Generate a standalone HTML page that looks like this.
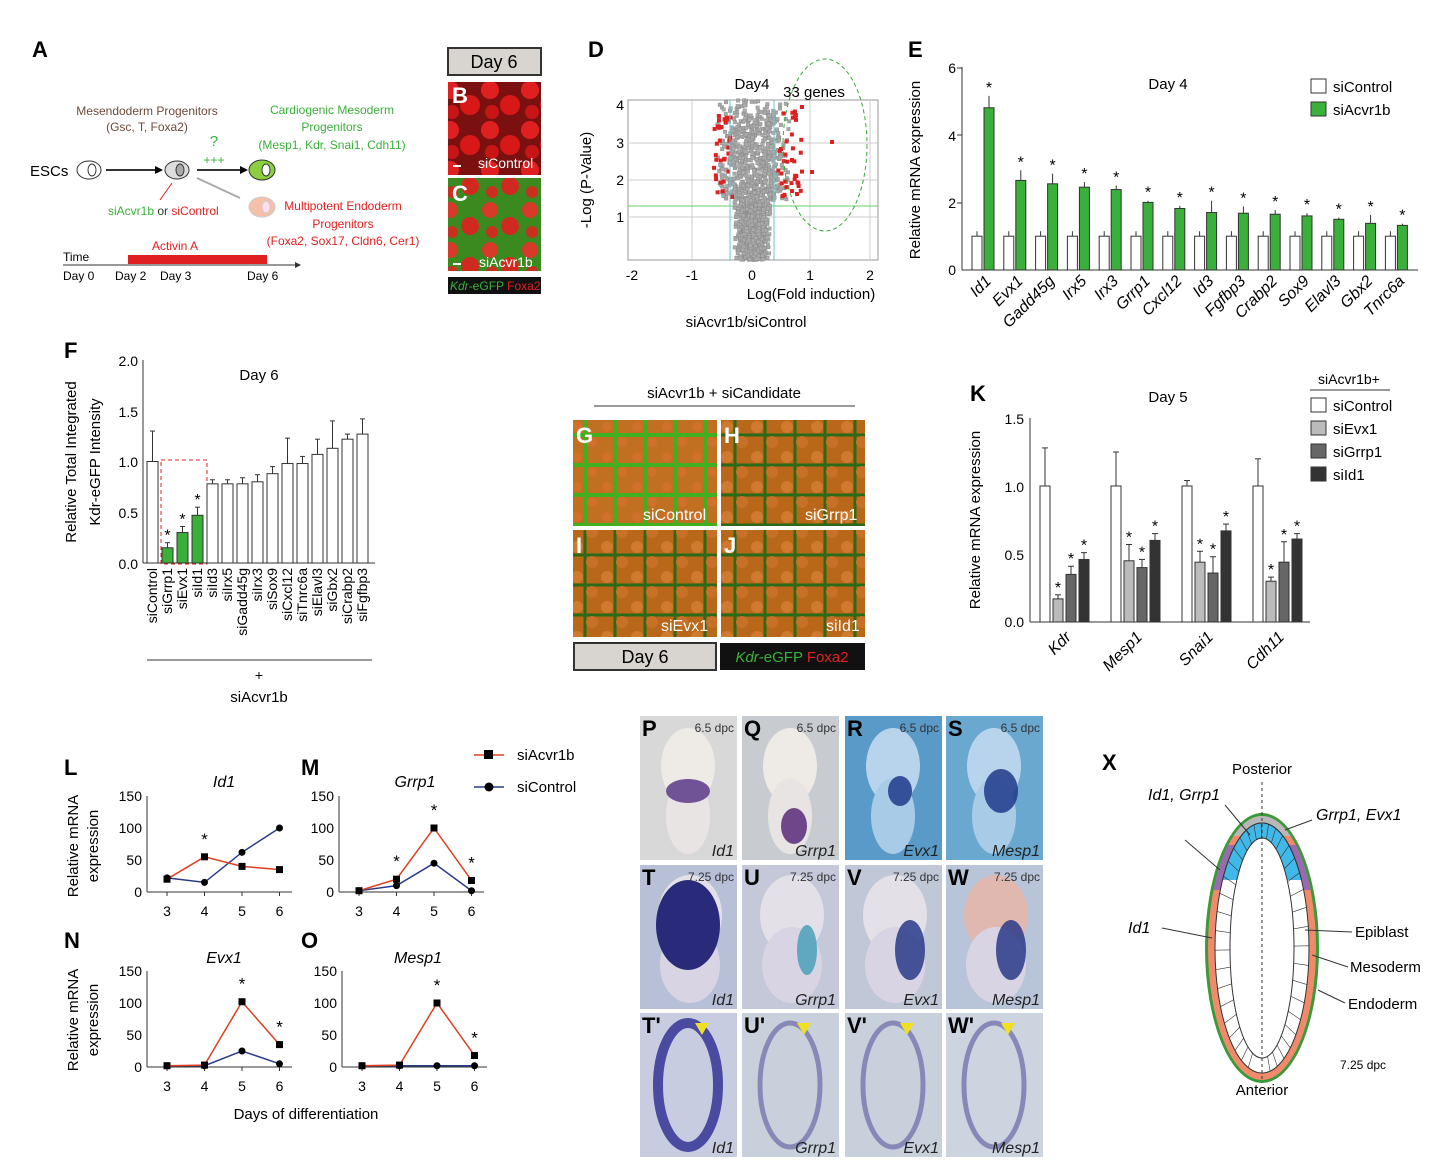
<!DOCTYPE html>
<html><head><meta charset="utf-8"><style>
body{margin:0;background:#fff}
svg{display:block;font-family:"Liberation Sans",Arial,sans-serif}
</style></head><body>
<svg width="1448" height="1172" viewBox="0 0 1448 1172" xmlns="http://www.w3.org/2000/svg">
<defs>
<pattern id="red" width="40" height="40" patternUnits="userSpaceOnUse">
<rect width="40" height="40" fill="#7a1010"/>
<circle cx="10" cy="10" r="9" fill="#e02020"/><circle cx="30" cy="25" r="10" fill="#d81818"/><circle cx="12" cy="32" r="7" fill="#c81515"/>
</pattern>
<pattern id="rg" width="40" height="40" patternUnits="userSpaceOnUse">
<rect width="40" height="40" fill="#3a8a20"/>
<circle cx="10" cy="10" r="8" fill="#d83a2a"/><circle cx="30" cy="26" r="9" fill="#d02a20"/><circle cx="12" cy="32" r="6" fill="#c83020"/>
</pattern>
<pattern id="og" width="30" height="30" patternUnits="userSpaceOnUse">
<rect width="30" height="30" fill="#c07020"/>
<path d="M0 15h30M15 0v30" stroke="#40b020" stroke-width="4"/><circle cx="7" cy="7" r="5" fill="#d0702a"/><circle cx="22" cy="22" r="5" fill="#d0702a"/>
</pattern>
<pattern id="og2" width="30" height="30" patternUnits="userSpaceOnUse">
<rect width="30" height="30" fill="#b86818"/>
<path d="M0 15h30M15 0v30" stroke="#2a6a18" stroke-width="3"/><circle cx="7" cy="7" r="6" fill="#d07a30"/><circle cx="22" cy="22" r="6" fill="#c87028"/>
</pattern>
<clipPath id="ctop"><rect x="1190" y="800" width="150" height="80"/></clipPath>
<clipPath id="ctop2"><rect x="1190" y="800" width="150" height="36"/></clipPath>
<clipPath id="cmid"><rect x="1190" y="845" width="150" height="45"/></clipPath>
</defs>

<!-- Panel A -->
<text x="32" y="57" font-size="22" font-weight="bold">A</text>
<text x="147" y="115" font-size="12" fill="#6b4a3a" text-anchor="middle">Mesendoderm Progenitors</text>
<text x="147" y="131" font-size="12" fill="#6b4a3a" text-anchor="middle">(Gsc, T, Foxa2)</text>
<text x="30" y="176" font-size="15">ESCs</text>
<ellipse cx="89" cy="170" rx="12" ry="9" fill="#fff" stroke="#333"/><ellipse cx="92" cy="170" rx="4" ry="6" fill="#fff" stroke="#333"/>
<line x1="106" y1="170" x2="155" y2="170" stroke="#333" stroke-width="2"/><path d="M155 166l8 4-8 4z"/>
<ellipse cx="177" cy="170" rx="12" ry="9" fill="#ddd" stroke="#333"/><ellipse cx="180" cy="170" rx="4" ry="6" fill="#aaa" stroke="#333"/>
<line x1="197" y1="170" x2="240" y2="170" stroke="#333" stroke-width="2"/><path d="M240 166l8 4-8 4z"/>
<text x="214" y="146" font-size="15" fill="#3ab03a" text-anchor="middle">?</text>
<text x="214" y="164" font-size="12" fill="#3ab03a" text-anchor="middle">+++</text>
<line x1="197" y1="178" x2="240" y2="198" stroke="#aaa" stroke-width="2"/>
<ellipse cx="262" cy="170" rx="13" ry="10" fill="#8cd040" stroke="#333"/><ellipse cx="266" cy="170" rx="4" ry="6" fill="#fff" stroke="#333"/>
<ellipse cx="262" cy="207" rx="13" ry="10" fill="#f6c0a8" stroke="#ccc"/><ellipse cx="266" cy="207" rx="4" ry="6" fill="#fde" stroke="#ccc"/>
<text x="332" y="114" font-size="12" fill="#3ab03a" text-anchor="middle">Cardiogenic Mesoderm</text>
<text x="332" y="131" font-size="12" fill="#3ab03a" text-anchor="middle">Progenitors</text>
<text x="332" y="149" font-size="12" fill="#3ab03a" text-anchor="middle">(Mesp1, Kdr, Snai1, Cdh11)</text>
<text x="343" y="210" font-size="12" fill="#e02020" text-anchor="middle">Multipotent Endoderm</text>
<text x="343" y="228" font-size="12" fill="#e02020" text-anchor="middle">Progenitors</text>
<text x="343" y="245" font-size="12" fill="#e02020" text-anchor="middle">(Foxa2, Sox17, Cldn6, Cer1)</text>
<text x="108" y="215" font-size="12" fill="#3ab03a">siAcvr1b <tspan fill="#333">or</tspan> <tspan fill="#e02020">siControl</tspan></text>
<line x1="160" y1="200" x2="172" y2="183" stroke="#e02020"/>
<text x="175" y="250" font-size="12" fill="#e02020" text-anchor="middle">Activin A</text>
<rect x="128" y="255" width="139" height="9" fill="#e02020"/>
<line x1="63" y1="265" x2="295" y2="265" stroke="#333"/><path d="M295 262l6 3-6 3z" fill="#333"/>
<text x="63" y="261" font-size="12">Time</text>
<text x="63" y="280" font-size="12">Day 0</text><text x="115" y="280" font-size="12">Day 2</text><text x="160" y="280" font-size="12">Day 3</text><text x="247" y="280" font-size="12">Day 6</text>

<!-- B C -->
<rect x="448" y="48" width="93" height="27" fill="#d8d4d0" stroke="#333" stroke-width="2"/>
<text x="494" y="68" font-size="18" text-anchor="middle">Day 6</text>
<rect x="448" y="82" width="93" height="93" fill="url(#red)"/>
<rect x="448" y="178" width="93" height="93" fill="url(#rg)"/>
<text x="452" y="103" font-size="22" font-weight="bold" fill="#fff">B</text>
<text x="452" y="201" font-size="22" font-weight="bold" fill="#fff">C</text>
<text x="478" y="168" font-size="14" fill="#fff">siControl</text>
<text x="479" y="267" font-size="14" fill="#fff">siAcvr1b</text>
<line x1="453" y1="166" x2="461" y2="166" stroke="#fff" stroke-width="2"/><line x1="453" y1="264" x2="461" y2="264" stroke="#fff" stroke-width="2"/>
<rect x="448" y="277" width="93" height="17" fill="#111"/>
<text x="450" y="290" font-size="12" fill="#3ab03a"><tspan font-style="italic">Kdr</tspan>-eGFP <tspan fill="#e02020">Foxa2</tspan></text>

<!-- D volcano -->
<text x="588" y="57" font-size="22" font-weight="bold">D</text>
<rect x="628" y="100" width="250" height="160" fill="#fff" stroke="#999"/>
<g stroke="#ccc"><line x1="628" y1="143" x2="878" y2="143"/><line x1="628" y1="180" x2="878" y2="180"/><line x1="628" y1="217" x2="878" y2="217"/><line x1="692" y1="100" x2="692" y2="260"/><line x1="810" y1="100" x2="810" y2="260"/><line x1="870" y1="100" x2="870" y2="260"/></g>
<line x1="628" y1="206" x2="878" y2="206" stroke="#6c6"/>
<g id="volc"></g>
<line x1="730" y1="100" x2="730" y2="260" stroke="#6cc"/><line x1="774" y1="100" x2="774" y2="260" stroke="#6cc"/>
<ellipse cx="825" cy="145" rx="42" ry="86" fill="none" stroke="#3a3" stroke-dasharray="4,3"/>
<g font-size="14" text-anchor="end"><text x="624" y="110">4</text><text x="624" y="148">3</text><text x="624" y="185">2</text><text x="624" y="222">1</text></g>
<g font-size="14" text-anchor="middle"><text x="632" y="280">-2</text><text x="692" y="280">-1</text><text x="752" y="280">0</text><text x="810" y="280">1</text><text x="870" y="280">2</text></g>
<text x="752" y="89" font-size="15" text-anchor="middle">Day4</text>
<text x="814" y="97" font-size="15" text-anchor="middle">33 genes</text>
<text x="811" y="299" font-size="15" text-anchor="middle">Log(Fold induction)</text>
<text x="746" y="327" font-size="15" text-anchor="middle">siAcvr1b/siControl</text>
<text transform="translate(591,180) rotate(-90)" font-size="15" text-anchor="middle">-Log (P-Value)</text>

<!-- E -->
<text x="908" y="57" font-size="22" font-weight="bold">E</text>
<line x1="962" y1="67" x2="962" y2="270" stroke="#333"/><line x1="962" y1="270" x2="1418" y2="270" stroke="#333"/>
<g font-size="14" text-anchor="end"><text x="956" y="73">6</text><text x="956" y="141">4</text><text x="956" y="208">2</text><text x="956" y="275">0</text></g>
<g stroke="#333"><line x1="957" y1="68" x2="962" y2="68"/><line x1="957" y1="135" x2="962" y2="135"/><line x1="957" y1="203" x2="962" y2="203"/></g>
<text transform="translate(920,170) rotate(-90)" font-size="15" text-anchor="middle">Relative mRNA expression</text>
<text x="1168" y="89" font-size="15" text-anchor="middle">Day 4</text>
<rect x="1311" y="79" width="15" height="14" fill="#fff" stroke="#333"/><text x="1333" y="92" font-size="15">siControl</text>
<rect x="1311" y="102" width="15" height="14" fill="#3ab03a" stroke="#333"/><text x="1333" y="115" font-size="15">siAcvr1b</text>
<g id="ebars" stroke="#333" font-size="15"></g>

<!-- F -->
<text x="64" y="358" font-size="22" font-weight="bold">F</text>
<line x1="143" y1="360" x2="143" y2="563" stroke="#333"/><line x1="143" y1="563" x2="375" y2="563" stroke="#333"/>
<g font-size="14" text-anchor="end"><text x="138" y="366">2.0</text><text x="138" y="417">1.5</text><text x="138" y="467">1.0</text><text x="138" y="518">0.5</text><text x="138" y="569">0.0</text></g>
<text transform="translate(76,462) rotate(-90)" font-size="15" text-anchor="middle">Relative Total Integrated</text>
<text transform="translate(100,462) rotate(-90)" font-size="15" text-anchor="middle">Kdr-eGFP Intensity</text>
<text x="259" y="380" font-size="15" text-anchor="middle">Day 6</text>
<rect x="161" y="460" width="46" height="104" fill="none" stroke="#e02020" stroke-dasharray="4,3"/>
<line x1="147" y1="660" x2="372" y2="660" stroke="#333"/>
<text x="259" y="680" font-size="14" text-anchor="middle">+</text>
<text x="259" y="702" font-size="15" text-anchor="middle">siAcvr1b</text>
<g id="fbars"></g>

<!-- G-J -->
<text x="724" y="398" font-size="15" text-anchor="middle">siAcvr1b + siCandidate</text>
<line x1="594" y1="406" x2="855" y2="406" stroke="#333"/>
<rect x="573" y="420" width="144" height="106" fill="url(#og)"/>
<rect x="721" y="420" width="144" height="106" fill="url(#og2)"/>
<rect x="573" y="530" width="144" height="107" fill="url(#og2)"/>
<rect x="721" y="530" width="144" height="107" fill="url(#og2)"/>
<g font-size="22" font-weight="bold" fill="#fff"><text x="576" y="443">G</text><text x="724" y="443">H</text><text x="576" y="553">I</text><text x="724" y="553">J</text></g>
<g font-size="16" fill="#fff"><text x="643" y="520">siControl</text><text x="805" y="520">siGrrp1</text><text x="661" y="631">siEvx1</text><text x="826" y="631">siId1</text></g>
<rect x="574" y="643" width="142" height="27" fill="#d8d4d0" stroke="#333" stroke-width="2"/>
<text x="645" y="663" font-size="18" text-anchor="middle">Day 6</text>
<rect x="720" y="643" width="145" height="27" fill="#111"/>
<text x="792" y="662" font-size="15" fill="#3ab03a" text-anchor="middle"><tspan font-style="italic">Kdr</tspan>-eGFP <tspan fill="#e02020">Foxa2</tspan></text>

<!-- K -->
<text x="970" y="401" font-size="22" font-weight="bold">K</text>
<line x1="1030" y1="418" x2="1030" y2="622" stroke="#333"/><line x1="1030" y1="622" x2="1310" y2="622" stroke="#333"/>
<g font-size="14" text-anchor="end"><text x="1024" y="424">1.5</text><text x="1024" y="492">1.0</text><text x="1024" y="560">0.5</text><text x="1024" y="627">0.0</text></g>
<text transform="translate(980,520) rotate(-90)" font-size="15" text-anchor="middle">Relative mRNA expression</text>
<text x="1168" y="402" font-size="15" text-anchor="middle">Day 5</text>
<text x="1318" y="384" font-size="14">siAcvr1b+</text><line x1="1310" y1="390" x2="1390" y2="390" stroke="#333"/>
<rect x="1311" y="398" width="15" height="14" fill="#fff" stroke="#333"/><text x="1333" y="411" font-size="15">siControl</text>
<rect x="1311" y="421" width="15" height="14" fill="#bbb" stroke="#333"/><text x="1333" y="434" font-size="15">siEvx1</text>
<rect x="1311" y="444" width="15" height="14" fill="#666" stroke="#333"/><text x="1333" y="457" font-size="15">siGrrp1</text>
<rect x="1311" y="467" width="15" height="14" fill="#333" stroke="#333"/><text x="1333" y="480" font-size="15">siId1</text>
<g id="kbars"></g>

<!-- L M N O -->
<g font-size="22" font-weight="bold"><text x="64" y="775">L</text><text x="301" y="775">M</text><text x="64" y="948">N</text><text x="301" y="948">O</text></g>
<g font-size="16" font-style="italic" text-anchor="middle"><text x="224" y="787">Id1</text><text x="415" y="787">Grrp1</text><text x="224" y="963">Evx1</text><text x="418" y="963">Mesp1</text></g>
<text transform="translate(78,846) rotate(-90)" font-size="15" text-anchor="middle">Relative mRNA</text>
<text transform="translate(98,846) rotate(-90)" font-size="15" text-anchor="middle">expression</text>
<text transform="translate(78,1020) rotate(-90)" font-size="15" text-anchor="middle">Relative mRNA</text>
<text transform="translate(98,1020) rotate(-90)" font-size="15" text-anchor="middle">expression</text>
<text x="306" y="1119" font-size="15" text-anchor="middle">Days of differentiation</text>
<line x1="474" y1="755" x2="504" y2="755" stroke="#e04020" stroke-width="1.5"/><rect x="484" y="750" width="9" height="9"/>
<text x="517" y="760" font-size="15">siAcvr1b</text>
<line x1="474" y1="787" x2="504" y2="787" stroke="#2a3a8a" stroke-width="1.5"/><circle cx="489" cy="787" r="4.5"/>
<text x="517" y="792" font-size="15">siControl</text>
<g id="lines"></g>

<!-- P-W' -->
<g id="emb"></g>

<!-- X -->
<text x="1102" y="770" font-size="22" font-weight="bold">X</text>
<ellipse cx="1262" cy="948" rx="57" ry="135" fill="#3a9a3a"/>
<ellipse cx="1262" cy="948" rx="54" ry="132" fill="#f08a6a"/>
<ellipse cx="1262" cy="948" rx="54" ry="132" fill="#b8b8b8" clip-path="url(#ctop2)"/>
<ellipse cx="1262" cy="948" rx="54" ry="132" fill="#9a6ab0" clip-path="url(#cmid)"/>
<ellipse cx="1262" cy="948" rx="47" ry="125" fill="#fff" stroke="#333"/>
<ellipse cx="1262" cy="948" rx="47" ry="125" fill="#40b8e8" stroke="#333" clip-path="url(#ctop)"/>
<ellipse cx="1262" cy="948" rx="32" ry="110" fill="#fff" stroke="#333"/>
<g stroke="#333" stroke-width="0.6" id="xrays"></g>
<line x1="1262" y1="782" x2="1262" y2="1080" stroke="#333" stroke-dasharray="3,3"/>
<text x="1262" y="774" font-size="15" text-anchor="middle">Posterior</text>
<text x="1262" y="1095" font-size="15" text-anchor="middle">Anterior</text>
<text x="1148" y="800" font-size="16" font-style="italic">Id1, Grrp1</text>
<text x="1316" y="820" font-size="16" font-style="italic">Grrp1, Evx1</text>
<text x="1128" y="933" font-size="16" font-style="italic">Id1</text>
<text x="1355" y="937" font-size="15">Epiblast</text>
<text x="1350" y="972" font-size="15">Mesoderm</text>
<text x="1348" y="1009" font-size="15">Endoderm</text>
<text x="1340" y="1069" font-size="12">7.25 dpc</text>
<g stroke="#333"><line x1="1162" y1="928" x2="1212" y2="938"/><line x1="1185" y1="840" x2="1220" y2="870"/><line x1="1225" y1="805" x2="1250" y2="835"/><line x1="1312" y1="820" x2="1285" y2="830"/><line x1="1352" y1="932" x2="1305" y2="930"/><line x1="1348" y1="967" x2="1312" y2="955"/><line x1="1345" y1="1003" x2="1318" y2="990"/></g>
</svg>
<script>
const NS="http://www.w3.org/2000/svg";
function el(p,t,a,txt){const e=document.createElementNS(NS,t);for(const k in a)e.setAttribute(k,a[k]);if(txt!=null)e.textContent=txt;p.appendChild(e);return e;}
let seed=7;function rnd(){seed=(seed*16807)%2147483647;return seed/2147483647;}
// volcano
let g=document.getElementById('volc');
for(let i=0;i<1400;i++){const y=100+Math.pow(rnd(),0.7)*160;const w=8+ (260-y)*0.02+ (y<200?rnd()*14:rnd()*10);const side=rnd()<0.5?-1:1;const x=752+side*rnd()*w*(y<200?1.6:1);
el(g,'rect',{x:x-1.5,y:y-1.5,width:3.5,height:3.5,fill:'#aaa',stroke:'#888','stroke-width':0.4});}
for(let i=0;i<70;i++){const y=108+rnd()*90;const left=rnd()<0.55;const x=left?710+rnd()*20:776+rnd()*25;
el(g,'rect',{x:x,y:y,width:4,height:4,fill:'#e02020'});}
[[800,105],[810,170],[795,192],[830,140],[790,158]].forEach(p=>el(g,'rect',{x:p[0],y:p[1],width:4,height:4,fill:'#e02020'}));
// E
g=document.getElementById('ebars');
const eg=[4.8,2.65,2.55,2.45,2.38,2.0,1.82,1.7,1.68,1.65,1.6,1.5,1.38,1.32];
const eerr=[.35,.3,.3,.15,.12,.05,.08,.35,.2,.12,.08,.05,.25,.05];
const en=['Id1','Evx1','Gadd45g','Irx5','Irx3','Grrp1','Cxcl12','Id3','Fgfbp3','Crabp2','Sox9','Elavl3','Gbx2','Tnrc6a'];
eg.forEach((v,i)=>{const x=972+i*31.8,s=33.8;
el(g,'rect',{x:x,y:270-s,width:10,height:s,fill:'#fff',stroke:'#333'});
el(g,'line',{x1:x+5,y1:270-s,x2:x+5,y2:270-s-5,stroke:'#333'});
el(g,'rect',{x:x+12,y:270-v*s,width:10,height:v*s,fill:'#3ab03a',stroke:'#333'});
el(g,'line',{x1:x+17,y1:270-v*s,x2:x+17,y2:270-(v+eerr[i])*s,stroke:'#333'});
el(g,'text',{x:x+17,y:270-(v+eerr[i])*s-3,'font-size':16,'text-anchor':'middle',stroke:'none'},'*');
el(g,'text',{transform:`translate(${x+20},282) rotate(-45)`,'font-size':16,'font-style':'italic','text-anchor':'end',stroke:'none'},en[i]);});
// F
g=document.getElementById('fbars');
const fv=[1.0,.15,.3,.47,.78,.78,.78,.8,.88,.98,.98,1.07,1.13,1.22,1.27];
const fe=[.3,.05,.06,.08,.04,.04,.06,.07,.07,.25,.07,.15,.27,.05,.15];
const fn=['siControl','siGrrp1','siEvx1','siId1','siId3','siIrx5','siGadd45g','siIrx3','siSox9','siCxcl12','siTnrc6a','siElavl3','siGbx2','siCrabp2','siFgfbp3'];
fv.forEach((v,i)=>{const x=147+i*15,s=101.5;const gr=i>=1&&i<=3;
el(g,'rect',{x:x,y:563-v*s,width:11,height:v*s,fill:gr?'#3ab03a':'#fff',stroke:'#333'});
el(g,'line',{x1:x+5.5,y1:563-v*s,x2:x+5.5,y2:563-(v+fe[i])*s,stroke:'#333'});
el(g,'line',{x1:x+3,y1:563-(v+fe[i])*s,x2:x+8,y2:563-(v+fe[i])*s,stroke:'#333'});
if(gr)el(g,'text',{x:x+5.5,y:563-(v+fe[i])*s-2,'font-size':16,'text-anchor':'middle'},'*');
el(g,'text',{transform:`translate(${x+10},568) rotate(-90)`,'font-size':14,'text-anchor':'end'},fn[i]);});
// K
g=document.getElementById('kbars');
const kv=[[1,.17,.35,.46],[1,.45,.4,.6],[1,.44,.36,.67],[1,.3,.44,.61]];
const ke=[[.28,.03,.06,.05],[.25,.12,.06,.05],[.04,.08,.12,.05],[.2,.03,.15,.04]];
const kc=['#fff','#bbb','#666','#333'];const kn=['Kdr','Mesp1','Snai1','Cdh11'];
kv.forEach((gv,j)=>{gv.forEach((v,i)=>{const x=1040+j*71+i*13,s=136;
el(g,'rect',{x:x,y:622-v*s,width:10,height:v*s,fill:kc[i],stroke:'#333'});
el(g,'line',{x1:x+5,y1:622-v*s,x2:x+5,y2:622-(v+ke[j][i])*s,stroke:'#333'});
el(g,'line',{x1:x+2,y1:622-(v+ke[j][i])*s,x2:x+8,y2:622-(v+ke[j][i])*s,stroke:'#333'});
if(i>0)el(g,'text',{x:x+5,y:622-(v+ke[j][i])*s-2,'font-size':16,'text-anchor':'middle'},'*');});
el(g,'text',{transform:`translate(${1072+j*71},638) rotate(-45)`,'font-size':16,'font-style':'italic','text-anchor':'end'},kn[j]);});
// lines
g=document.getElementById('lines');
function chart(x0,y0,red,blue,stars){const xs=[0,37.5,75,112.5].map(d=>x0+d),s=96/150;
el(g,'line',{x1:x0-20,y1:y0-96,x2:x0-20,y2:y0,stroke:'#333'});
el(g,'line',{x1:x0-20,y1:y0,x2:x0+125,y2:y0,stroke:'#333'});
[0,50,100,150].forEach(t=>{el(g,'text',{x:x0-25,y:y0-t*s+5,'font-size':14,'text-anchor':'end'},t);});
[3,4,5,6].forEach((d,i)=>{el(g,'text',{x:xs[i],y:y0+24,'font-size':14,'text-anchor':'middle'},d);el(g,'line',{x1:xs[i],y1:y0,x2:xs[i],y2:y0+4,stroke:'#333'});});
el(g,'polyline',{points:blue.map((v,i)=>xs[i]+','+(y0-v*s)).join(' '),fill:'none',stroke:'#2a3a8a','stroke-width':1.5});
el(g,'polyline',{points:red.map((v,i)=>xs[i]+','+(y0-v*s)).join(' '),fill:'none',stroke:'#e04020','stroke-width':1.5});
blue.forEach((v,i)=>el(g,'circle',{cx:xs[i],cy:y0-v*s,r:3.5}));
red.forEach((v,i)=>el(g,'rect',{x:xs[i]-3.5,y:y0-v*s-3.5,width:7,height:7}));
stars.forEach(i=>el(g,'text',{x:xs[i],y:y0-Math.max(red[i],blue[i])*s-12,'font-size':17,'text-anchor':'middle'},'*'));}
chart(167,892,[20,55,40,35],[22,15,62,100],[1]);
chart(359,892,[2,20,100,18],[2,10,45,2],[1,2,3]);
chart(167,1067,[2,3,102,35],[2,2,25,5],[2,3]);
chart(362,1067,[2,3,100,18],[2,2,2,2],[2,3]);
// X rays
g=document.getElementById('xrays');
for(let a=-80;a<=260;a+=9){const t=a*Math.PI/180;
el(g,'line',{x1:1262+32*Math.cos(t),y1:948-110*Math.sin(t),x2:1262+47*Math.cos(t),y2:948-125*Math.sin(t)});}
// embryos
g=document.getElementById('emb');
const cols=[640,742,845,946],rows=[716,865,1013];
const labs=[['P','Q','R','S'],['T','U','V','W'],["T'","U'","V'","W'"]];
const gn=['Id1','Grrp1','Evx1','Mesp1'];
const bg=[['#d8d8d8','#c8ccd0','#5a9ac8','#6aa8d0'],['#b8c0d8','#c4c8d8','#c0c8d8','#b8c4d8'],['#c8cce0','#c8d0dc','#c8d0dc','#ccd4e0']];
rows.forEach((y,r)=>cols.forEach((x,c)=>{
el(g,'rect',{x:x,y:y,width:97,height:144,fill:bg[r][c]});
if(r==0){el(g,'ellipse',{cx:x+48,cy:y+50,rx:27,ry:38,fill:c<2?'#eeeae6':'#b8d4ec'});
el(g,'ellipse',{cx:x+48,cy:y+100,rx:22,ry:38,fill:c<2?'#e8e4e4':'#a8cce8'});
if(c==0)el(g,'ellipse',{cx:x+48,cy:y+75,rx:22,ry:12,fill:'#5a3a8a',opacity:.85});
else if(c==1)el(g,'ellipse',{cx:x+52,cy:y+110,rx:13,ry:18,fill:'#5a2a7a',opacity:.85});
else el(g,'ellipse',{cx:x+55,cy:y+75,rx:c==3?17:12,ry:c==3?22:15,fill:'#203a8a',opacity:.85});}
else if(r==1){el(g,'ellipse',{cx:x+50,cy:y+50,rx:32,ry:40,fill:c==3?'#e0b8b0':'#e4e0e8'});
el(g,'ellipse',{cx:x+50,cy:y+100,rx:30,ry:38,fill:'#d8d4e4'});
if(c==0)el(g,'ellipse',{cx:x+48,cy:y+60,rx:32,ry:45,fill:'#2a2a7a'});
else el(g,'ellipse',{cx:x+65,cy:y+85,rx:c==1?10:15,ry:c==1?25:30,fill:c==1?'#4aa0b8':'#2a3a8a',opacity:.85});}
else{el(g,'ellipse',{cx:x+48,cy:y+72,rx:30,ry:62,fill:'none',stroke:c==0?'#4a4aa0':'#8888b8','stroke-width':c==0?10:5});
el(g,'path',{d:`M${x+55} ${y+10} l14 0 l-7 12z`,fill:'#f0e020'});}
el(g,'text',{x:x+2,y:y+20,'font-size':22,'font-weight':'bold'},labs[r][c]);
if(r<2)el(g,'text',{x:x+94,y:y+16,'font-size':12,'text-anchor':'end',fill:'#333'},r==0?'6.5 dpc':'7.25 dpc');
el(g,'text',{x:x+94,y:y+140,'font-size':16,'font-style':'italic','text-anchor':'end',fill:'#222'},gn[c]);}));
</script>
</body></html>
